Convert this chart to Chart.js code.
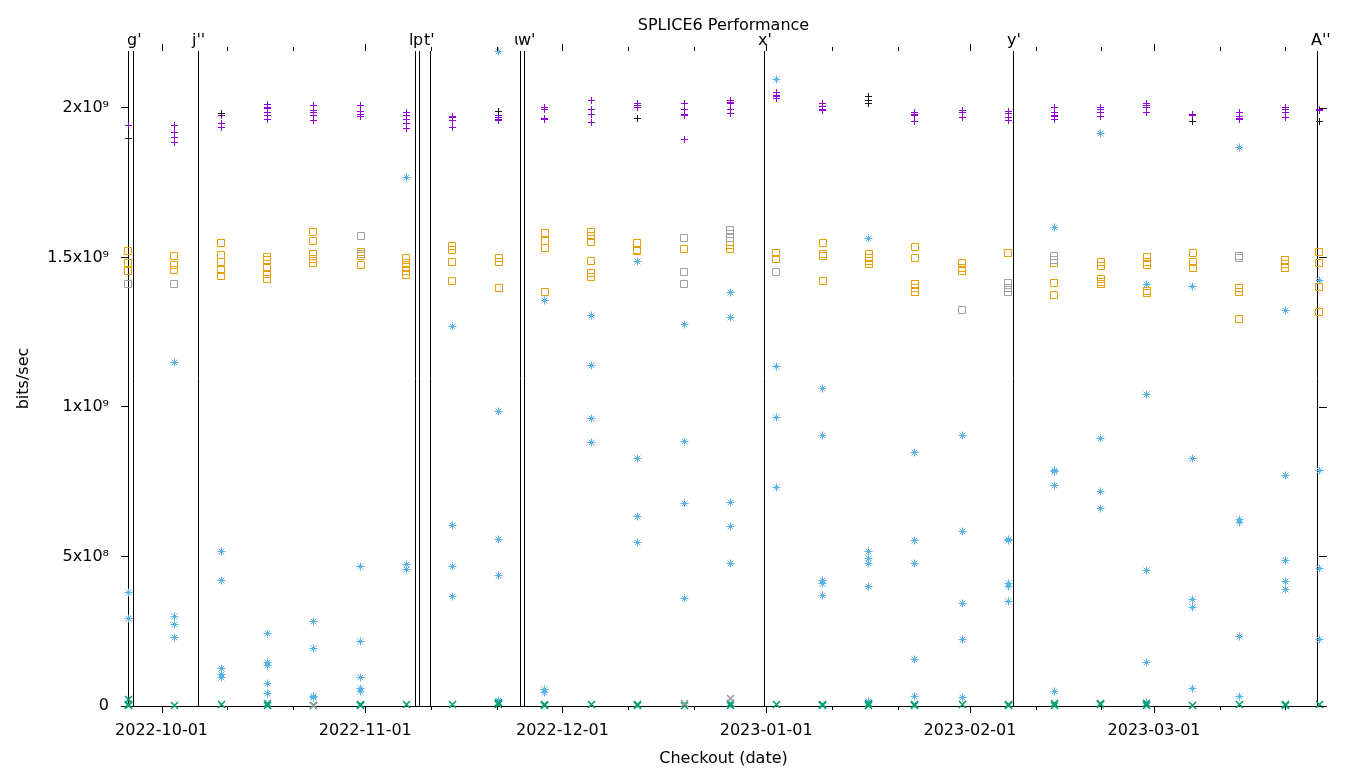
<!DOCTYPE html>
<html lang="en">
<head>
    <meta charset="UTF-8">
    <title>SPLICE6 Performance</title>
    <script src="https://cdn.jsdelivr.net/npm/chart.js"></script>
    <style>
        html, body { margin: 0; padding: 0; background: #fff; }
        #wrap { width: 1360px; height: 768px; }
    </style>
</head>
<body>
<div id="wrap"><canvas id="perfChart" width="1360" height="768"></canvas></div>
<script>
    // checkout dates, in days after 2022-10-01 (one column of runs per checkout)
    const checkoutDays = [-5.1, 1.9, 9.1, 16.1, 23.1, 30.3, 37.2, 44.2, 51.3, 58.3, 65.4, 72.4, 79.5,
        86.5, 93.5, 100.6, 107.6, 114.6, 121.8, 128.8, 135.8, 142.9, 149.9, 156.9, 164.0, 171.0, 176.1];

    // x axis ticks (days after 2022-10-01)
    const majorDays = [0, 31, 61, 92, 123, 151];
    const majorLabels = ['2022-10-01', '2022-11-01', '2022-12-01', '2023-01-01', '2023-02-01', '2023-03-01'];
    const minorDays = [10, 20, 41, 51, 71, 81, 102, 112, 133, 143, 161, 171];

    // y axis ticks
    const yTickValues = [0, 5e8, 1e9, 1.5e9, 2e9];
    const yTickLabels = ['0', '5x10\u2078', '1x10\u2079', '1.5x10\u2079', '2x10\u2079'];

    // tagged checkouts (vertical markers)
    const eventDays = [-4.3, 5.6, 38.6, 39.1, 40.8, 54.5, 55.1, 91.6, 129.5, 175.8];
    const eventLabels = ["g'", "j''", "l'", "p'", "t'", "u'", "w'", "x'", "y'", "A''"];

    // runs per checkout, in 1e9 bits/sec
    const plusPurple = [
        [1.94], [1.94, 1.917, 1.90, 1.883], [1.974, 1.946, 1.935], [2.01, 2.0, 1.998, 1.986, 1.973, 1.962],
        [2.007, 1.99, 1.984, 1.973, 1.957], [2.007, 1.988, 1.979, 1.971], [1.986, 1.973, 1.962, 1.948, 1.932],
        [1.972, 1.968, 1.957, 1.935], [1.976, 1.967, 1.96, 1.957], [2.0, 1.995, 1.963, 1.96],
        [2.023, 1.995, 1.979, 1.951], [2.013, 2.007, 2.002], [2.015, 1.993, 1.977, 1.975, 1.893],
        [2.023, 2.018, 2.015, 1.995, 1.98], [2.051, 2.042, 2.038, 2.032], [2.015, 2.004, 1.995, 1.991],
        [], [1.986, 1.979, 1.975, 1.955], [1.991, 1.986, 1.983, 1.969], [1.988, 1.98, 1.969, 1.957],
        [2.0, 1.983, 1.975, 1.971, 1.962], [2.0, 1.996, 1.993, 1.985, 1.971], [2.015, 2.007, 2.0, 1.985],
        [1.979, 1.975], [1.983, 1.971, 1.963, 1.96], [2.002, 1.993, 1.983, 1.966], [1.996, 1.992]
    ];
    const plusBlack = [
        [1.896], [], [1.982], [], [], [], [], [], [1.987], [], [], [1.963], [], [], [], [],
        [2.038, 2.025, 2.016], [], [], [], [], [], [], [1.955], [], [], [1.955]
    ];
    const squareOrange = [
        [1.522, 1.482, 1.455], [1.505, 1.475, 1.458], [1.548, 1.508, 1.485, 1.458, 1.438],
        [1.502, 1.492, 1.465, 1.445, 1.428], [1.585, 1.555, 1.512, 1.495, 1.482], [1.518, 1.505, 1.475],
        [1.498, 1.482, 1.468, 1.455, 1.441], [1.538, 1.525, 1.485, 1.421], [1.498, 1.485, 1.398],
        [1.582, 1.555, 1.532, 1.385], [1.585, 1.572, 1.552, 1.488, 1.448, 1.435], [1.548, 1.525, 1.52],
        [1.528], [1.542, 1.528], [1.515, 1.495], [1.548, 1.512, 1.505, 1.421], [1.512, 1.498, 1.488, 1.478],
        [1.535, 1.498, 1.411, 1.398, 1.385], [1.482, 1.465, 1.455], [1.515], [1.482, 1.415, 1.375],
        [1.485, 1.472, 1.428, 1.418, 1.411], [1.502, 1.485, 1.475, 1.388, 1.381], [1.515, 1.485, 1.465],
        [1.398, 1.385, 1.294], [1.492, 1.478, 1.465], [1.518, 1.48, 1.40, 1.319]
    ];
    const squareGray = [
        [1.411], [1.41], [], [], [], [1.572, 1.512], [], [], [], [], [], [], [1.565, 1.452, 1.411],
        [1.592, 1.579, 1.565], [1.452], [], [], [], [1.324], [1.415, 1.398, 1.385], [1.505, 1.492],
        [], [], [], [1.505, 1.498], [], []
    ];
    const starBlue = [
        [0.379, 0.294], [1.147, 0.298, 0.271, 0.229], [0.515, 0.419, 0.124, 0.106, 0.096],
        [0.244, 0.144, 0.134, 0.074, 0.043], [0.281, 0.191, 0.033, 0.027], [0.465, 0.217, 0.094, 0.06, 0.047],
        [1.766, 0.472, 0.455], [1.268, 0.605, 0.468, 0.365], [2.19, 0.983, 0.558, 0.438, 0.017],
        [1.355, 0.054, 0.044], [1.304, 1.14, 0.96, 0.88], [1.485, 0.829, 0.632, 0.548],
        [1.274, 0.883, 0.676, 0.358], [1.381, 1.298, 0.679, 0.599, 0.475], [2.096, 1.134, 0.963, 0.729],
        [1.06, 0.906, 0.418, 0.411, 0.368], [1.562, 0.515, 0.492, 0.478, 0.398, 0.015],
        [0.846, 0.555, 0.475, 0.154, 0.031], [0.906, 0.585, 0.344, 0.224, 0.029], [0.558, 0.552, 0.411, 0.401, 0.351],
        [1.599, 0.789, 0.783, 0.736, 0.048], [1.915, 0.896, 0.716, 0.659], [1.408, 1.043, 0.452, 0.144, 0.013],
        [1.401, 0.829, 0.355, 0.328, 0.057], [1.867, 0.625, 0.612, 0.231, 0.031], [1.323, 0.771, 0.487, 0.417, 0.389],
        [1.423, 0.789, 0.459, 0.222]
    ];
    const crossGreen = [
        [0.023, 0.006, 0.002], [0.001], [0.005], [0.01, 0.003], [0.003], [0.006, 0.002], [0.004], [0.005],
        [0.012, 0.004], [0.006, 0.002], [0.005], [0.006, 0.002], [0.002], [0.007, 0.002], [0.004],
        [0.006, 0.002], [0.009, 0.003], [0.006, 0.001], [0.006], [0.006, 0.002], [0.009, 0.003],
        [0.007, 0.004], [0.008, 0.003], [0.003], [0.004], [0.006, 0.002], [0.004]
    ];
    const crossGray = [
        [], [], [], [], [0.002], [], [], [], [], [], [], [], [0.008], [0.025], [], [], [], [], [], [], [],
        [], [], [], [], [], []
    ];

    function toPoints(columns) {
        const pts = [];
        columns.forEach((vals, i) => {
            vals.forEach(v => pts.push({ x: checkoutDays[i], y: v * 1e9 }));
        });
        return pts;
    }

    function series(data, style, color, radius, width) {
        return {
            data: toPoints(data),
            pointStyle: style,
            pointRadius: radius,
            pointBorderColor: color,
            pointBackgroundColor: 'rgba(0,0,0,0)',
            pointBorderWidth: width || 1,
            showLine: false,
            clip: false
        };
    }

    // keep the 1px marker strokes crisp like gnuplot's
    const snap = {
        id: 'snap',
        afterDatasetsUpdate(chart) {
            chart.data.datasets.forEach((ds, i) => {
                const whole = ds.pointStyle === 'rect';
                chart.getDatasetMeta(i).data.forEach(pt => {
                    pt.x = whole ? Math.round(pt.x) : Math.floor(pt.x) + 0.5;
                    pt.y = whole ? Math.round(pt.y) : Math.floor(pt.y) + 0.5;
                });
            });
        }
    };

    // markers, title, mirrored ticks - drawn the gnuplot way
    const decor = {
        id: 'decor',
        beforeDatasetsDraw(chart) {
            const { ctx, chartArea: a, scales: { x } } = chart;
            ctx.save();
            ctx.strokeStyle = '#000';
            ctx.lineWidth = 1;
            eventDays.forEach(d => {
                const px = Math.round(x.getPixelForValue(d)) + 0.5;
                ctx.beginPath();
                ctx.moveTo(px, a.top);
                ctx.lineTo(px, a.bottom);
                ctx.stroke();
            });
            ctx.restore();
        },
        afterDraw(chart) {
            const { ctx, chartArea: a, scales: { x, y } } = chart;
            ctx.save();
            ctx.font = "16px 'DejaVu Sans'";
            ctx.textBaseline = 'alphabetic';
            ctx.fillStyle = '#000';
            ctx.textAlign = 'center';
            ctx.fillText('SPLICE6 Performance', (a.left + a.right) / 2, 30);

            // tag labels sit left-justified just before their line, each on a white box
            ctx.textAlign = 'left';
            eventDays.forEach((d, i) => {
                const txt = eventLabels[i];
                const lx = Math.round(x.getPixelForValue(d)) - 6;
                const w = ctx.measureText(txt).width;
                ctx.fillStyle = '#fff';
                ctx.fillRect(lx, 32, w, 16);
                ctx.fillStyle = '#000';
                ctx.fillText(txt, lx, 45);
            });

            ctx.strokeStyle = '#000';
            ctx.lineWidth = 1;
            ctx.beginPath();
            const xt = majorDays.map(d => [d, 7]).concat(minorDays.map(d => [d, 4]));
            xt.forEach(([d, len]) => {
                const px = Math.round(x.getPixelForValue(d)) + 0.5;
                ctx.moveTo(px, a.bottom);
                ctx.lineTo(px, a.bottom + len);
                ctx.moveTo(px, a.top);
                ctx.lineTo(px, a.top - len);
            });
            yTickValues.forEach(v => {
                const py = Math.round(y.getPixelForValue(v)) + 0.5;
                ctx.moveTo(a.right, py);
                ctx.lineTo(a.right + 8, py);
            });
            ctx.stroke();
            ctx.restore();
        }
    };

    Chart.defaults.font.family = "'DejaVu Sans', sans-serif";
    Chart.defaults.font.size = 16;
    Chart.defaults.color = '#000';

    new Chart(document.getElementById('perfChart'), {
        type: 'scatter',
        data: {
            datasets: [
                series(crossGray, 'crossRot', '#9a9a9a', 5, 1.5),
                series(crossGreen, 'crossRot', '#009e73', 5, 1.5),
                series(squareGray, 'rect', '#a0a0a0', 4.95),
                series(squareOrange, 'rect', '#e69f00', 4.95),
                series(starBlue, 'star', '#56b4e9', 4),
                series(plusBlack, 'cross', '#1a1a1a', 3.5),
                series(plusPurple, 'cross', '#9400d3', 3.5)
            ]
        },
        plugins: [snap, decor],
        options: {
            responsive: false,
            animation: false,
            events: [],
            layout: { padding: { top: 51, right: 41, left: 0, bottom: 0 } },
            plugins: {
                legend: { display: false },
                tooltip: { enabled: false }
            },
            scales: {
                x: {
                    type: 'linear',
                    min: -5.1,
                    max: 176.1,
                    afterBuildTicks(scale) {
                        scale.ticks = majorDays.concat(minorDays).sort((p, q) => p - q).map(v => ({ value: v }));
                    },
                    afterFit(scale) { scale.height = 62; },
                    ticks: {
                        autoSkip: false,
                        maxRotation: 0,
                        minRotation: 0,
                        padding: 15,
                        callback(value) {
                            const i = majorDays.indexOf(value);
                            return i >= 0 ? majorLabels[i] : '';
                        }
                    },
                    grid: { display: false, drawTicks: false },
                    border: { display: true, color: '#000', width: 1 },
                    title: { display: true, text: 'Checkout (date)', padding: { top: 6, bottom: 0 } }
                },
                y: {
                    min: 0,
                    max: 2.19e9,
                    afterBuildTicks(scale) {
                        scale.ticks = yTickValues.map(v => ({ value: v }));
                    },
                    afterFit(scale) { scale.width = 128; },
                    ticks: {
                        padding: 12,
                        callback(value) {
                            const i = yTickValues.indexOf(value);
                            return i >= 0 ? yTickLabels[i] : '';
                        }
                    },
                    grid: { display: true, drawOnChartArea: false, drawTicks: true, tickLength: 7, color: '#000' },
                    border: { display: true, color: '#000', width: 1 },
                    title: { display: true, text: 'bits/sec', padding: { top: 14, bottom: 0 } }
                }
            }
        }
    });
</script>
</body>
</html>
